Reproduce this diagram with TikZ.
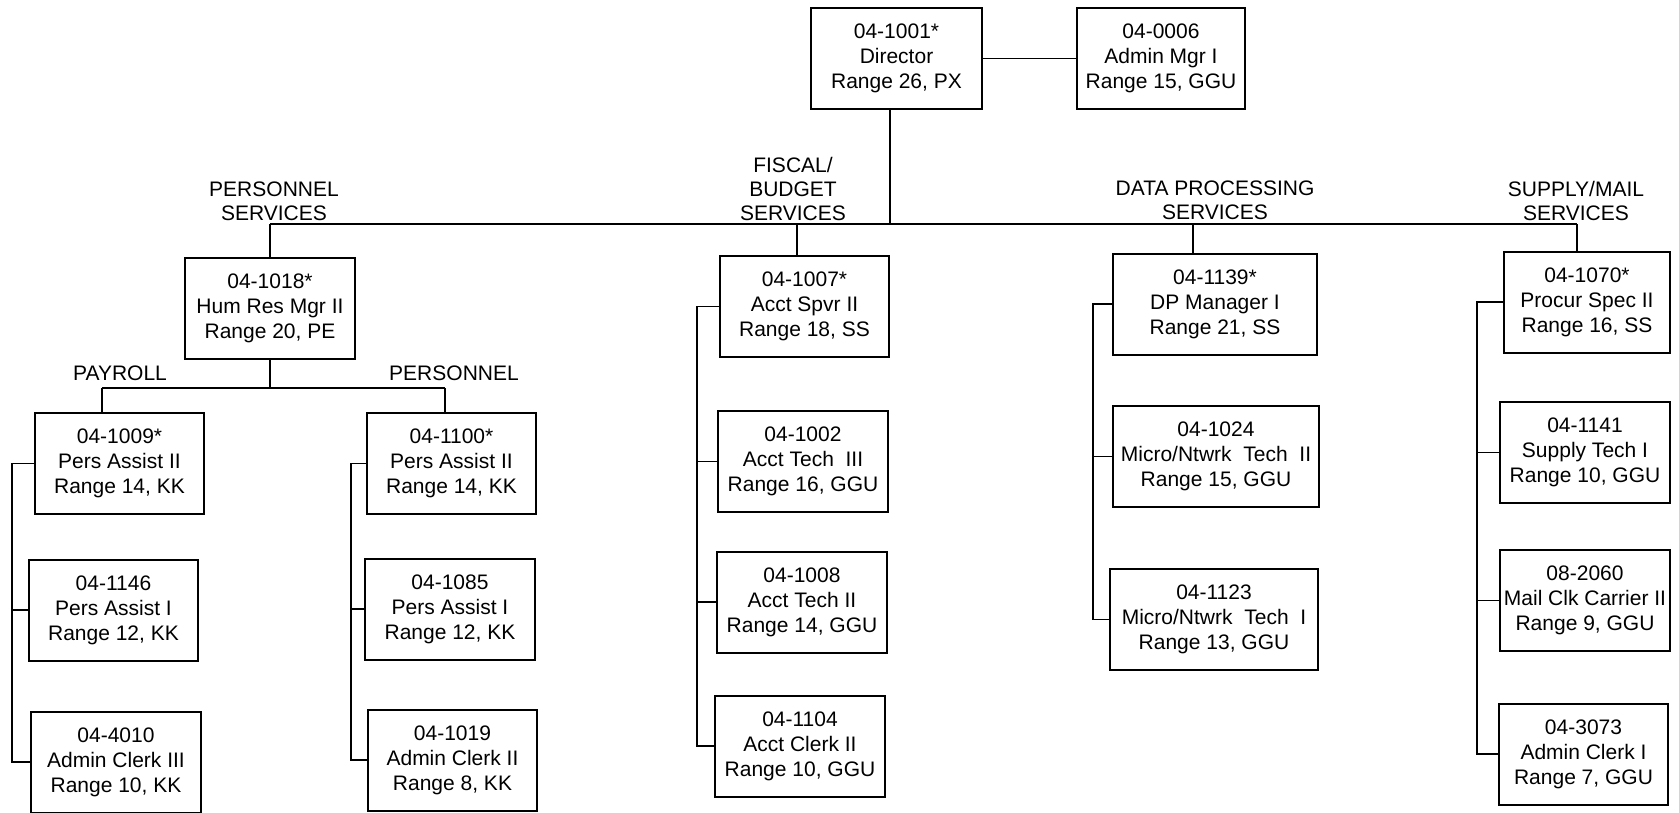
\documentclass[tikz,border=0pt]{standalone}
\usepackage{fontspec}
\setmainfont{Liberation Sans}

\begin{document}
\begin{tikzpicture}[x=1pt,y=-1pt,
    post/.style={draw,line width=2pt,align=center,inner sep=0pt,
      minimum height=101pt,font=\fontsize{21}{25}\selectfont},
    dept/.style={align=center,inner sep=0pt,anchor=south,
      font=\fontsize{21}{24}\selectfont},
    unit/.style={inner sep=0pt,anchor=base,font=\fontsize{21}{24}\selectfont},
    link/.style={line width=1.8pt}]
  \useasboundingbox (0,0) rectangle (1679,812);

  \node[post,minimum width=171pt] (dir) at (896.5,58.5) {04-1001*\\Director\\Range 26, PX};
  \node[post,minimum width=168pt] (adm) at (1161,58.5) {04-0006\\Admin Mgr I\\Range 15, GGU};

  \node[post,minimum width=170pt] (hrm) at (270,308.5) {04-1018*\\Hum Res Mgr II\\Range 20, PE};
  \node[post,minimum width=169pt] (pay1) at (119.5,463.5) {04-1009*\\Pers Assist II\\Range 14, KK};
  \node[post,minimum width=169pt] (pay2) at (113.5,610) {04-1146\\Pers Assist I\\Range 12, KK};
  \node[post,minimum width=170pt] (pay3) at (116,762) {04-4010\\Admin Clerk III\\Range 10, KK};
  \node[post,minimum width=169pt] (pers1) at (451.5,463.5) {04-1100*\\Pers Assist II\\Range 14, KK};
  \node[post,minimum width=170pt] (pers2) at (450,609) {04-1085\\Pers Assist I\\Range 12, KK};
  \node[post,minimum width=169pt] (pers3) at (452.5,760) {04-1019\\Admin Clerk II\\Range 8, KK};

  \node[post,minimum width=169pt] (fis1) at (804.5,306.5) {04-1007*\\Acct Spvr II\\Range 18, SS};
  \node[post,minimum width=170pt] (fis2) at (803,461.5) {04-1002\\Acct Tech\ \ III\\Range 16, GGU};
  \node[post,minimum width=170pt] (fis3) at (802,602) {04-1008\\Acct Tech II\\Range 14, GGU};
  \node[post,minimum width=170pt] (fis4) at (800,746) {04-1104\\Acct Clerk II\\Range 10, GGU};

  \node[post,minimum width=204pt] (dp1) at (1215,304) {04-1139*\\DP Manager I\\Range 21, SS};
  \node[post,minimum width=206pt] (dp2) at (1216,456.5) {04-1024\\Micro/Ntwrk\ \ Tech\ \ II\\Range 15, GGU};
  \node[post,minimum width=208pt] (dp3) at (1214,619.5) {04-1123\\Micro/Ntwrk\ \ Tech\ \ I\\Range 13, GGU};

  \node[post,minimum width=166pt] (sup1) at (1587,302) {04-1070*\\Procur Spec II\\Range 16, SS};
  \node[post,minimum width=170pt] (sup2) at (1585,452.5) {04-1141\\Supply Tech I\\Range 10, GGU};
  \node[post,minimum width=170pt] (sup3) at (1585,600.5) {08-2060\\Mail Clk Carrier II\\Range 9, GGU};
  \node[post,minimum width=169pt] (sup4) at (1583.5,754) {04-3073\\Admin Clerk I\\Range 7, GGU};

  \node[dept] (lpers) at (274,221) {PERSONNEL\\SERVICES};
  \node[dept] (lfis) at (793,221) {FISCAL/\\BUDGET\\SERVICES};
  \node[dept] (ldp) at (1215,220) {DATA PROCESSING\\SERVICES};
  \node[dept] (lsup) at (1576,221) {SUPPLY/MAIL\\SERVICES};
  \node[unit] (lpay) at (120,380) {PAYROLL};
  \node[unit] (lper) at (454,380) {PERSONNEL};

  \coordinate (main) at (0,224);
  \coordinate (sub) at (0,388);
  \coordinate (dirstub) at (890,0);
  \coordinate (hrmstub) at (270,0);
  \coordinate (fisstub) at (797,0);
  \coordinate (dpstub) at (1193,0);
  \coordinate (supstub) at (1577,0);
  \coordinate (paystub) at (102,0);
  \coordinate (perstub) at (445,0);
  \coordinate (paybar) at (12,0);
  \coordinate (persbar) at (351,0);
  \coordinate (fisbar) at (697,0);
  \coordinate (dpbar) at (1093,0);
  \coordinate (supbar) at (1477,0);

  \draw[link] (dir.east) -- (adm.west);
  \draw[link] (dirstub |- dir.south) -- (dirstub |- main);
  \draw[link] (hrmstub |- main) -- (supstub |- main);
  \foreach \n/\s in {hrm/hrmstub, fis1/fisstub, dp1/dpstub, sup1/supstub}
    \draw[link] (\s |- \n.north) -- (\s |- main);

  \draw[link] (hrm.south) -- (hrm.south |- sub);
  \draw[link] (paystub |- sub) -- (perstub |- sub);
  \draw[link] (paystub |- sub) -- (paystub |- pay1.north);
  \draw[link] (perstub |- sub) -- (perstub |- pers1.north);

  \foreach \top/\bot/\bar in {pay1/pay3/paybar, pers1/pers3/persbar,
      fis1/fis4/fisbar, dp1/dp3/dpbar, sup1/sup4/supbar}
    \draw[link] (\top.west) -- (\top.west -| \bar) -- (\bot.west -| \bar) -- (\bot.west);
  \foreach \n/\bar in {pay2/paybar, pers2/persbar, fis2/fisbar, fis3/fisbar,
      dp2/dpbar, sup2/supbar, sup3/supbar}
    \draw[link] (\n.west -| \bar) -- (\n.west);
\end{tikzpicture}
\end{document}
